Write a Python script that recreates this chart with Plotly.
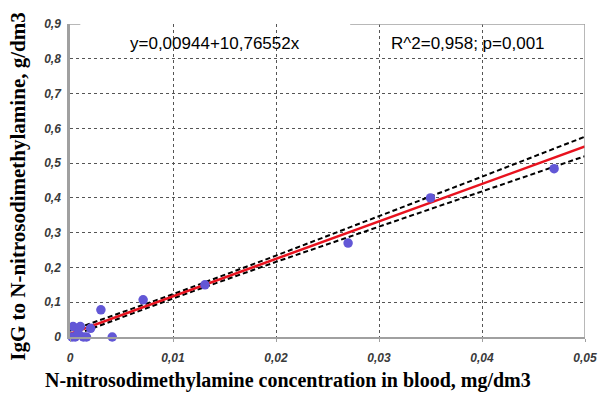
import plotly.graph_objects as go

# data
conc_x = [0.0002, 0.0003, 0.0005, 0.0008, 0.001, 0.0013, 0.0016, 0.002, 0.003, 0.0041,
          0.0071, 0.0131, 0.027, 0.035, 0.047]
igg_y = [0.0, 0.03, 0.0, 0.01, 0.03, 0.0, 0.0, 0.025, 0.078, 0.0,
         0.107, 0.15, 0.27, 0.40, 0.484]

intercept = 0.00944
slope = 10.76552

band_x = [0.0, 0.01, 0.02, 0.03, 0.04, 0.05]
band_upper = [0.018, 0.123, 0.234, 0.347, 0.461, 0.576]
band_lower = [0.001, 0.111, 0.216, 0.318, 0.419, 0.520]

fit_x = [0.0, 0.05]
fit_y = [intercept + slope * v for v in fit_x]

x_ticks = [0, 0.01, 0.02, 0.03, 0.04, 0.05]
x_ticktext = ["0", "0,01", "0,02", "0,03", "0,04", "0,05"]
y_ticks = [0, 0.1, 0.2, 0.3, 0.4, 0.5, 0.6, 0.7, 0.8, 0.9]
y_ticktext = ["0", "0,1", "0,2", "0,3", "0,4", "0,5", "0,6", "0,7", "0,8", "0,9"]

tickfont = dict(family="Liberation Sans", size=12, color="#3a3a3a", style="italic", weight="bold")
titlefont_x = dict(family="Liberation Serif", size=20, color="black", weight="bold")
titlefont_y = dict(family="Liberation Serif", size=21, color="black", weight="bold")

fig = go.Figure()
fig.add_trace(go.Scatter(x=band_x, y=band_upper, mode="lines",
                         line=dict(color="black", width=2, dash="5px,3px"), showlegend=False))
fig.add_trace(go.Scatter(x=band_x, y=band_lower, mode="lines",
                         line=dict(color="black", width=2, dash="5px,3px"), showlegend=False))
fig.add_trace(go.Scatter(x=fit_x, y=fit_y, mode="lines",
                         line=dict(color="#e8121e", width=2.5), showlegend=False))
fig.add_trace(go.Scatter(x=conc_x, y=igg_y, mode="markers", cliponaxis=False,
                         marker=dict(color="#6257d6", size=9.5), showlegend=False))

fig.update_layout(
    width=599, height=396,
    margin=dict(l=70, r=14, t=24, b=59, autoexpand=False),
    plot_bgcolor="white", paper_bgcolor="white",
    font=dict(family="Liberation Sans", color="black"),
    xaxis=dict(range=[0, 0.05], tickvals=x_ticks, ticktext=x_ticktext, automargin=False,
               showgrid=True, gridcolor="#555", griddash="dot", gridwidth=1,
               zeroline=False, showline=True, linecolor="#a0a0a0", linewidth=2,
               ticks="outside", ticklen=3, tickcolor="#a0a0a0", ticklabelstandoff=6,
               tickfont=tickfont),
    yaxis=dict(range=[0, 0.9], tickvals=y_ticks, ticktext=y_ticktext, automargin=False,
               showgrid=True, gridcolor="#555", griddash="dot", gridwidth=1,
               zeroline=False, showline=True, linecolor="#a0a0a0", linewidth=2.5,
               ticks="", ticklabelstandoff=4,
               tickfont=tickfont),
    annotations=[
        dict(text="y=0,00944+10,76552x", x=0.01408, y=0.845, xref="x", yref="y",
             xanchor="center", yanchor="middle",
             showarrow=False, font=dict(family="Liberation Sans", size=17, color="black")),
        dict(text="R^2=0,958; p=0,001", x=0.0386, y=0.845, xref="x", yref="y",
             xanchor="center", yanchor="middle",
             showarrow=False, font=dict(family="Liberation Sans", size=17, color="black")),
        dict(text="N-nitrosodimethylamine concentration in blood, mg/dm3",
             x=0.423, y=-0.14, xref="paper", yref="paper", showarrow=False,
             xanchor="center", yanchor="middle", font=titlefont_x),
        dict(text="IgG to N-nitrosodimethylamine, g/dm3", textangle=-90,
             x=-0.101, y=0.48, xref="paper", yref="paper", showarrow=False,
             xanchor="center", yanchor="middle", font=titlefont_y),
    ],
    shapes=[
        dict(type="line", xref="x", yref="y", x0=0.0272, x1=0.05, y0=0.9, y1=0.9,
             line=dict(color="#a0a0a0", width=1.5)),
        dict(type="line", xref="x", yref="y", x0=0.05, x1=0.05, y0=0, y1=0.9,
             line=dict(color="#a0a0a0", width=1.5)),
        dict(type="line", xref="x", yref="y", x0=-0.0003, x1=0.001, y0=0.9, y1=0.9,
             line=dict(color="#a0a0a0", width=1.5)),
    ],
)

fig.write_html("out.html", config={"displayModeBar": False},
               post_script="document.body.style.margin='0';")
